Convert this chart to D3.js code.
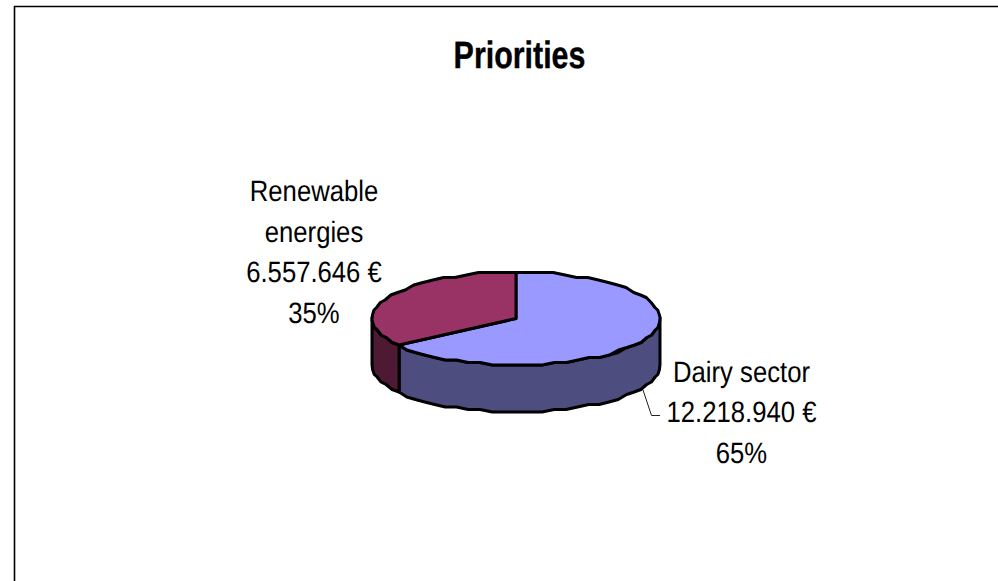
<!DOCTYPE html>
<html><head><meta charset="utf-8">
<script src="https://cdn.jsdelivr.net/npm/d3@7"></script>
<style>html,body{margin:0;padding:0;background:#fff}svg{display:block}text{font-family:"Liberation Sans",Arial,sans-serif;fill:#000;text-rendering:geometricPrecision}</style>
</head><body><svg id="c" width="998" height="581"></svg>
<script>
const categories = ["Dairy sector", "Renewable energies"];
const values = [12218940, 6557646];
const topColors = ["#9999FF", "#993366"];
const sideColors = ["#4D4D80", "#4D1933"];
const titleText = "Priorities";
const labelLines = [["12.218.940 €", "65%"], ["6.557.646 €", "35%"]];

const svg = d3.select("#c");
// frame
svg.append("path").attr("d","M14.5,581V6.5H998").attr("fill","none").attr("stroke","#000").attr("stroke-width",1.6);
svg.append("text").attr("transform","translate(519.5,68) scale(0.8,1)").attr("text-anchor","middle").attr("font-size",38).attr("font-weight","bold").attr("stroke","#000").attr("stroke-width",0.4).text(titleText);

const cx=516, cy=318.5, rx=144, ry=46.5, depth=47;
const sx=d3.scaleLinear().domain([-1,1]).range([cx-rx,cx+rx]);
const sy=d3.scaleLinear().domain([-1,1]).range([cy-ry,cy+ry]);
const arcs=d3.pie().sort(null).value(d=>d)(values);
const step=Math.PI/36;
function samples(a0,a1){const n=Math.max(1,Math.round((a1-a0)/step));return d3.range(n+1).map(i=>a0+(a1-a0)*i/n);}
// the reference's outline is a coarse polygon on a low-resolution grid
const snap=v=>Math.round(v/2.5)*2.5;
const P=a=>[sx(Math.sin(a)),snap(sy(-Math.cos(a)))];
const line=d3.line();
const g=svg.append("g").attr("stroke","#000").attr("stroke-width",3).attr("stroke-linejoin","round");
arcs.forEach((d,i)=>{
  const a0=Math.max(d.startAngle,Math.PI/2), a1=Math.min(d.endAngle,3*Math.PI/2);
  if(a1<=a0) return;
  const top=samples(a0,a1).map(P);
  const bot=top.map(p=>[p[0],p[1]+depth]).reverse();
  g.append("path").attr("d",line(top.concat(bot))+"Z").attr("fill",sideColors[i]);
});
arcs.forEach((d,i)=>{
  const pts=[[cx,cy]].concat(samples(d.startAngle,d.endAngle).map(P));
  g.append("path").attr("d",line(pts)+"Z").attr("fill",topColors[i]);
});
// leader
svg.append("path").attr("d","M643,390L651.5,415.5H660").attr("fill","none").attr("stroke","#222").attr("stroke-width",1);
// labels
function block(x,y,lines){
  lines.forEach((l,i)=>svg.append("text")
    .attr("transform",`translate(${x},${y+i*40.6}) scale(0.87,1)`)
    .attr("text-anchor","middle").attr("font-size",29.5).text(l));
}
block(741.5,381.7,[categories[0]].concat(labelLines[0]));
block(314,201,["Renewable","energies"].concat(labelLines[1]));
</script></body></html>
